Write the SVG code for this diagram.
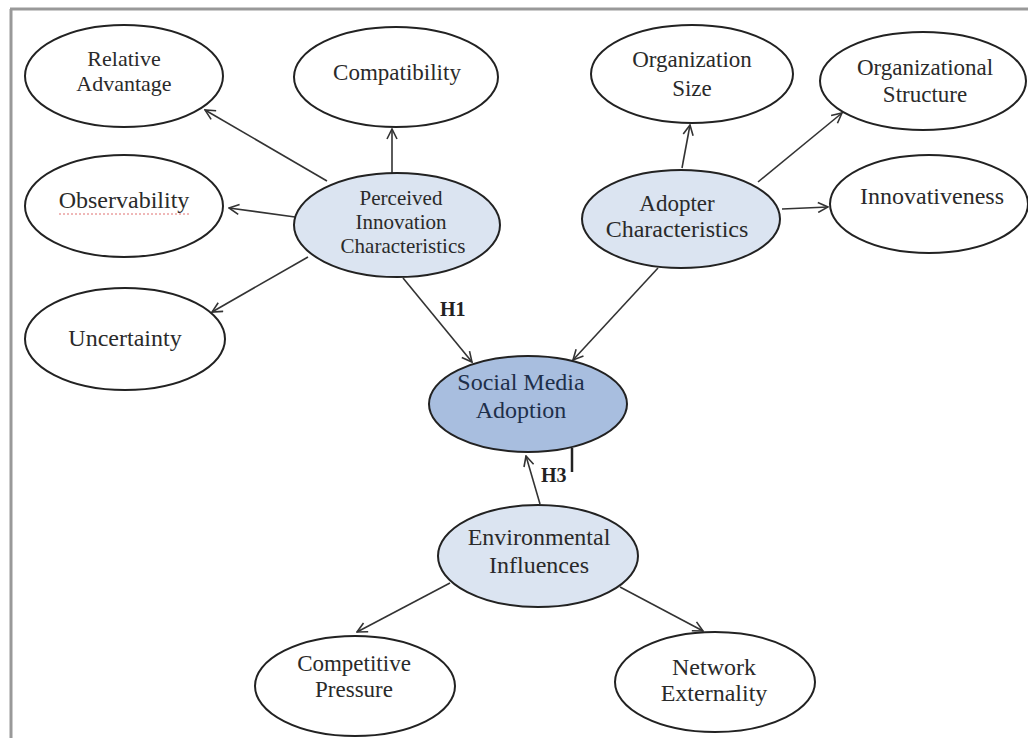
<svg xmlns="http://www.w3.org/2000/svg" width="1028" height="738" viewBox="0 0 1028 738">
<defs>
<style>
.n{fill:#fff;stroke:#222;stroke-width:2}
.l{fill:#dbe4f1;stroke:#222;stroke-width:2}
.d{fill:#a8bedf;stroke:#222;stroke-width:2}
text{font-family:"Liberation Serif","Times New Roman",serif;font-size:23px;fill:#2a2a2a;text-anchor:middle}
.dt{fill:#1e2f4a}
.h{font-weight:bold;font-size:20px;fill:#222;text-anchor:start}
.c line{stroke:#333;stroke-width:1.6;marker-end:url(#a)}
</style>
<marker id="a" viewBox="0 0 12 12" refX="11" refY="6" markerWidth="12" markerHeight="12" markerUnits="userSpaceOnUse" orient="auto">
<path d="M1,1 L11,6 L1,11" fill="none" stroke="#333" stroke-width="1.6"/>
</marker>
</defs>
<rect x="0" y="0" width="1028" height="738" fill="#fff"/>
<line x1="10" y1="9" x2="1028" y2="9" stroke="#999" stroke-width="3"/>
<line x1="11" y1="9" x2="11" y2="738" stroke="#999" stroke-width="3"/>

<g class="c">
<line x1="327" y1="181" x2="205" y2="110"/>
<line x1="392" y1="173" x2="392" y2="129"/>
<line x1="295" y1="217" x2="229" y2="208"/>
<line x1="308" y1="257" x2="212" y2="312"/>
<line x1="403" y1="278" x2="472" y2="362"/>
<line x1="682" y1="168" x2="690" y2="125"/>
<line x1="758" y1="182" x2="842" y2="113"/>
<line x1="782" y1="209" x2="828" y2="207"/>
<line x1="658" y1="268" x2="573" y2="360"/>
<line x1="540" y1="504" x2="526" y2="456"/>
<line x1="450" y1="583" x2="357" y2="632"/>
<line x1="620" y1="587" x2="703" y2="631"/>
<line x1="572" y1="448" x2="572" y2="472" style="marker-end:none;stroke-width:2.5;stroke:#222"/>
<text class="h" x="440" y="316">H1</text>
<text class="h" x="541" y="482">H3</text>
</g>

<g id="relative-advantage"><ellipse class="n" cx="124" cy="76" rx="99" ry="51"/><text x="124" y="66" style="font-size:22px">Relative</text><text x="124" y="91" style="font-size:22px">Advantage</text></g>
<g id="compatibility"><ellipse class="n" cx="396" cy="77" rx="102" ry="50"/><text x="397" y="80">Compatibility</text></g>
<g id="observability"><ellipse class="n" cx="124" cy="206" rx="99" ry="51"/><text x="124" y="208" style="font-size:24px">Observability</text><line x1="59" y1="214" x2="189" y2="214" stroke="#e07070" stroke-width="1" stroke-dasharray="2,2"/></g>
<g id="uncertainty"><ellipse class="n" cx="125" cy="339" rx="100" ry="51"/><text x="125" y="346" style="font-size:24px">Uncertainty</text></g>
<g id="perceived-innovation"><ellipse class="l" cx="397" cy="225" rx="103" ry="52"/><text x="401" y="205" style="font-size:21px">Perceived</text><text x="401" y="229" style="font-size:21px">Innovation</text><text x="403" y="253" style="font-size:21px">Characteristics</text></g>
<g id="organization-size"><ellipse class="n" cx="692" cy="74" rx="101" ry="49"/><text x="692" y="67">Organization</text><text x="692" y="96">Size</text></g>
<g id="organizational-structure"><ellipse class="n" cx="923" cy="81" rx="103" ry="49"/><text x="925" y="75">Organizational</text><text x="925" y="102">Structure</text></g>
<g id="adopter-characteristics"><ellipse class="l" cx="681" cy="219" rx="99" ry="49"/><text x="677" y="211">Adopter</text><text x="677" y="237" style="font-size:24px">Characteristics</text></g>
<g id="innovativeness"><ellipse class="n" cx="929" cy="204" rx="99" ry="49"/><text x="932" y="204" style="font-size:24px">Innovativeness</text></g>
<g id="social-media-adoption"><ellipse class="d" cx="528" cy="404" rx="99" ry="48"/><text class="dt" x="521" y="390" style="font-size:24px">Social Media</text><text class="dt" x="521" y="418" style="font-size:24px">Adoption</text></g>
<g id="environmental-influences"><ellipse class="l" cx="538" cy="556" rx="100" ry="51"/><text x="539" y="545" style="font-size:24px">Environmental</text><text x="539" y="573" style="font-size:24px">Influences</text></g>
<g id="competitive-pressure"><ellipse class="n" cx="355" cy="686" rx="100" ry="50"/><text x="354" y="671" style="font-size:23px">Competitive</text><text x="354" y="697" style="font-size:23px">Pressure</text></g>
<g id="network-externality"><ellipse class="n" cx="715" cy="682" rx="100" ry="50"/><text x="714" y="675" style="font-size:24px">Network</text><text x="714" y="701" style="font-size:24px">Externality</text></g>
</svg>
